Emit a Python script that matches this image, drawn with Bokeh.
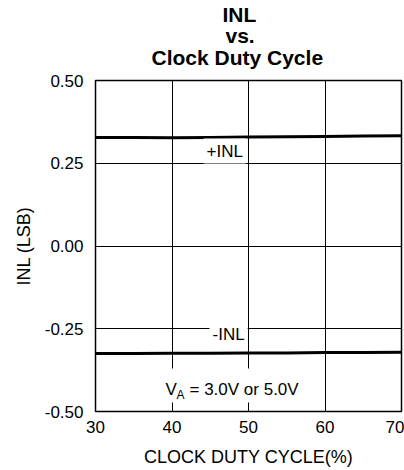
from bokeh.plotting import figure
from bokeh.models import Range1d, FixedTicker, PrintfTickFormatter, Label, BoxAnnotation, Title
from bokeh.embed import file_html
from bokeh.resources import INLINE

duty = [30, 35, 40, 45, 50, 55, 60, 65, 70]
inl_pos = [0.328, 0.328, 0.327, 0.328, 0.329, 0.330, 0.331, 0.332, 0.333]
inl_neg = [-0.325, -0.325, -0.324, -0.324, -0.323, -0.323, -0.322, -0.322, -0.321]
x_ticks = [30, 40, 50, 60, 70]
y_ticks = [-0.5, -0.25, 0.0, 0.25, 0.5]
title_lines = ["INL", "vs.", "Clock Duty Cycle"]

FONT = "Liberation Sans"

p = figure(width=404, height=470, output_backend="svg", toolbar_location=None, title=None,
           x_range=Range1d(30, 70), y_range=Range1d(-0.5, 0.5),
           min_border_left=95, min_border_right=3, min_border_top=80, min_border_bottom=59)

# blank spacer between frame and title block
p.add_layout(Title(text=" ", standoff=-13, text_font=FONT, text_font_size="21px",
                   text_font_style="bold", text_color="white"), "above")

# title: add from nearest-to-frame outward
title_offsets = [127, 130, 56]
title_standoffs = [-2, -6, 0]
for txt, off, so in reversed(list(zip(title_lines, title_offsets, title_standoffs))):
    p.add_layout(Title(text=txt, align="left", offset=off, standoff=so,
                       text_font=FONT, text_font_size="21px", text_font_style="bold",
                       text_color="black", text_line_height=1.0), "above")

p.outline_line_color = "black"
p.outline_line_width = 1.5
p.background_fill_color = "white"
p.border_fill_color = "white"

for ax in (p.xaxis, p.yaxis):
    ax.axis_line_color = None
    ax.major_tick_line_color = None
    ax.minor_tick_line_color = None
    ax.major_tick_out = 0
    ax.major_tick_in = 0
    ax.major_label_text_font = FONT
    ax.major_label_text_font_size = "17px"
    ax.major_label_text_font_style = "normal"
    ax.major_label_text_color = "black"
    ax.axis_label_text_font = FONT
    ax.axis_label_text_font_size = "18px"
    ax.axis_label_text_font_style = "normal"
    ax.axis_label_text_color = "black"

p.xaxis.ticker = FixedTicker(ticks=x_ticks)
p.yaxis.ticker = FixedTicker(ticks=y_ticks)
p.yaxis.formatter = PrintfTickFormatter(format="%.2f")
p.xaxis.axis_label = "CLOCK DUTY CYCLE(%)"
p.yaxis.axis_label = "INL (LSB)"
p.xaxis.major_label_standoff = 9
p.yaxis.major_label_standoff = 12
p.xaxis.axis_label_standoff = 11
p.yaxis.axis_label_standoff = 8

p.xgrid.grid_line_color = "black"
p.ygrid.grid_line_color = "black"
p.xgrid.grid_line_width = 1
p.ygrid.grid_line_width = 1

p.line(duty, inl_pos, line_color="black", line_width=3)
p.line(duty, inl_neg, line_color="black", line_width=3)

p.add_layout(Label(x=46.9, y=0.287, text="+INL", text_align="center", text_baseline="middle",
                   text_font=FONT, text_font_size="17px", text_color="black",
                   background_fill_color="white", padding=3))
p.add_layout(Label(x=47.4, y=-0.266, text="-INL", text_align="center", text_baseline="middle",
                   text_font=FONT, text_font_size="17px", text_color="black",
                   background_fill_color="white", padding=3))

p.add_layout(BoxAnnotation(left=38.5, right=58.5, bottom=-0.473, top=-0.370,
                           fill_color="white", fill_alpha=1, line_color=None))
vx, vy = 39.15, -0.4335
p.add_layout(Label(x=vx, y=vy, text="V", text_align="left", text_baseline="alphabetic",
                   text_font=FONT, text_font_size="17px", text_color="black"))
p.add_layout(Label(x=vx, y=vy, x_offset=11, y_offset=-6, text="A", text_align="left",
                   text_baseline="alphabetic", text_font=FONT, text_font_size="12px",
                   text_color="black"))
p.add_layout(Label(x=vx, y=vy, x_offset=24, text="= 3.0V or 5.0V", text_align="left",
                   text_baseline="alphabetic", text_font=FONT, text_font_size="17px",
                   text_color="black"))

open("out.html", "w").write(file_html(p, INLINE))
